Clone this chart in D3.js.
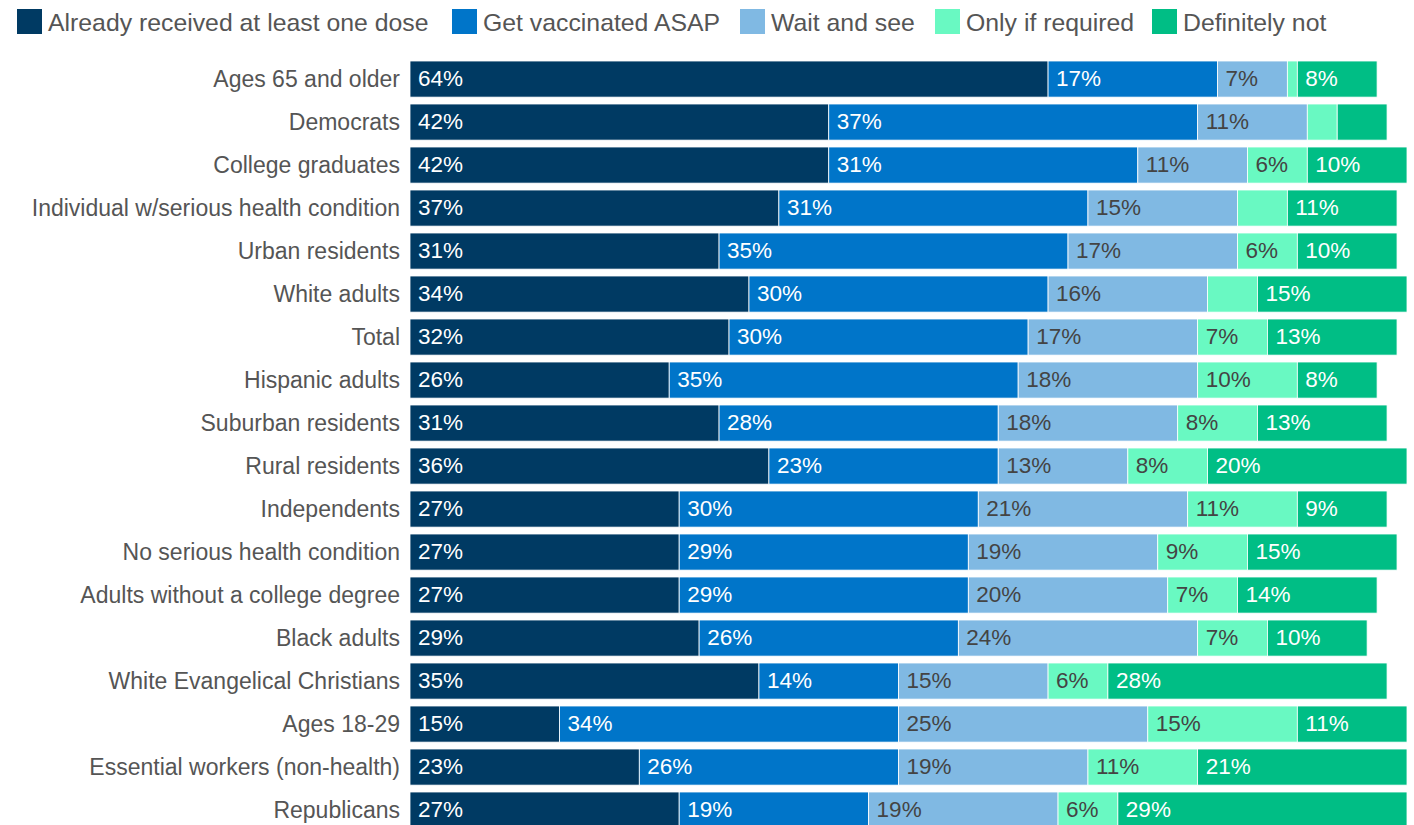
<!DOCTYPE html>
<html><head><meta charset="utf-8">
<script src="https://cdn.jsdelivr.net/npm/d3@7"></script>
<style>body{margin:0;background:#fff;overflow:hidden}svg{display:block;font-family:"Liberation Sans",Arial,sans-serif}</style>
</head><body><svg id="c" width="1414" height="825"></svg>
<script>
const categories = ["Ages 65 and older","Democrats","College graduates","Individual w/serious health condition","Urban residents","White adults","Total","Hispanic adults","Suburban residents","Rural residents","Independents","No serious health condition","Adults without a college degree","Black adults","White Evangelical Christians","Ages 18-29","Essential workers (non-health)","Republicans"];
const seriesNames = ["Already received at least one dose","Get vaccinated ASAP","Wait and see","Only if required","Definitely not"];
const received = [64,42,42,37,31,34,32,26,31,36,27,27,27,29,35,15,23,27];
const asap     = [17,37,31,31,35,30,30,35,28,23,30,29,29,26,14,34,26,19];
const waitSee  = [7,11,11,15,17,16,17,18,18,13,21,19,20,24,15,25,19,19];
const onlyReq  = [1,3,6,5,6,5,7,10,8,8,11,9,7,7,6,15,11,6];
const defNot   = [8,5,10,11,10,15,13,8,13,20,9,15,14,10,28,11,21,29];
const colors = ["#003A63","#0075C9","#80B9E3","#69F9C2","#00BE85"];
const labelColors = ["#fff","#fff","#444","#444","#fff"];

const seriesVals = [received, asap, waitSee, onlyReq, defNot];
const data = categories.map((c,i)=>{const o={cat:c}; seriesNames.forEach((s,j)=>o[s]=seriesVals[j][i]); return o;});
const stack = d3.stack().keys(seriesNames)(data);

const svg = d3.select("#c");
const x = d3.scaleLinear().domain([0,100]).range([410,1407]);
const pad = 0.16, step = 43;
const y = d3.scaleBand().domain(categories)
  .range([61, 61 + step*(categories.length - pad)]).paddingInner(pad).paddingOuter(0);

const g = svg.append("g");
stack.forEach((layer,j)=>{
  const lg = g.append("g");
  lg.selectAll("rect").data(layer).join("rect")
    .attr("x",d=>x(d[0])).attr("y",d=>y(d.data.cat))
    .attr("width",d=>x(d[1])-x(d[0])).attr("height",y.bandwidth())
    .attr("fill",colors[j]).attr("stroke","#fff").attr("stroke-width",0.8);
  lg.selectAll("text").data(layer.filter(d=>d[1]-d[0]>=6)).join("text")
    .attr("x",d=>x(d[0])+8).attr("y",d=>y(d.data.cat)+25)
    .attr("fill",labelColors[j]).attr("font-size",22.5)
    .text(d=>(d[1]-d[0])+"%");
});

const yAxis = svg.append("g").attr("transform","translate(410,0)")
  .call(d3.axisLeft(y).tickSize(0).tickPadding(10));
yAxis.select(".domain").remove();
yAxis.selectAll("text").attr("font-size",23).attr("fill","#555").attr("dy",null).attr("y",8)
  .style("font-family","'Liberation Sans',Arial,sans-serif");

const legendX = [17,452,740,935,1152];
const leg = svg.append("g");
seriesNames.forEach((s,j)=>{
  leg.append("rect").attr("x",legendX[j]).attr("y",9).attr("width",25).attr("height",25).attr("fill",colors[j]);
  leg.append("text").attr("x",legendX[j]+31).attr("y",31).attr("font-size",24.8).attr("fill","#555").text(s);
});
</script></body></html>
